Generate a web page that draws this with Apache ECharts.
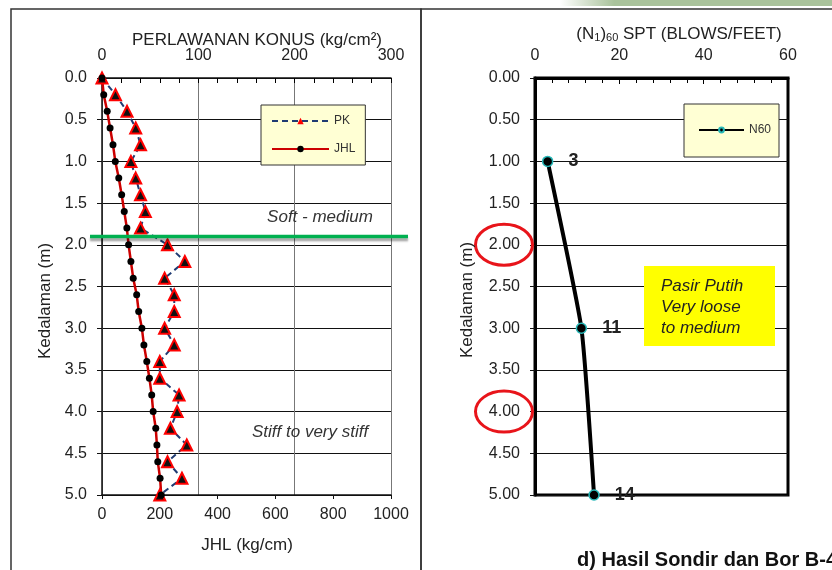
<!DOCTYPE html>
<html>
<head>
<meta charset="utf-8">
<script src="https://cdn.jsdelivr.net/npm/echarts/dist/echarts.min.js"></script>
<style>
html, body { margin: 0; padding: 0; background: #fff; }
#chart { width: 832px; height: 570px; }
</style>
</head>
<body>
<div id="chart"></div>
<script>
// kedalaman (m) tiap 0.2 m
const depth = [0, 0.2, 0.4, 0.6, 0.8, 1.0, 1.2, 1.4, 1.6, 1.8, 2.0, 2.2, 2.4,
    2.6, 2.8, 3.0, 3.2, 3.4, 3.6, 3.8, 4.0, 4.2, 4.4, 4.6, 4.8, 5.0];
// perlawanan konus (kg/cm2)
const pk = [0, 14, 26, 35, 40, 30, 35, 40, 45, 40, 68, 86, 65,
    75, 75, 65, 75, 60, 60, 80, 78, 71, 88, 68, 83, 60];
// jumlah hambatan lekat (kg/cm)
const jhl = [0, 6, 18, 28, 38, 46, 58, 68, 77, 86, 92, 100, 108,
    120, 127, 138, 145, 155, 164, 172, 177, 186, 190, 193, 201, 205];
// SPT
const sptDepth = [1, 3, 5];
const n60 = [3, 11, 14];

const softLimit = 1.9; // batas soft - medium
const circledDepths = [2, 4];

const FONT = "'Liberation Sans', Arial, sans-serif";
const INK = "#222";

const myChart = echarts.init(document.getElementById("chart"));

const tickLabel = {
    color: INK,
    fontSize: 16,
    fontFamily: FONT,
    showMinLabel: true,
    showMaxLabel: true,
    formatter: v => String(v),
};

const option = {
    animation: false,
    backgroundColor: "#fff",
    grid: [
        { left: 102, top: 78, width: 289, height: 417 },
        { left: 535, top: 78, width: 253, height: 417, show: true, borderColor: "#000", borderWidth: 3 },
    ],
    legend: [
        {
            data: [
                { name: "PK", itemStyle: { color: "#ff0000", borderWidth: 0 } },
                { name: "JHL" },
            ],
            orient: "vertical",
            left: 261,
            top: 105,
            padding: [10, 10, 10, 10],
            itemWidth: 57,
            itemHeight: 8,
            itemGap: 16,
            backgroundColor: "#ffffd4",
            borderColor: "#333",
            borderWidth: 1,
            borderRadius: 0,
            textStyle: { color: "#333", fontSize: 12, fontFamily: FONT },
        },
        {
            data: ["N60"],
            left: 684,
            top: 104,
            padding: [20, 8, 21, 14],
            itemWidth: 45,
            itemHeight: 6,
            backgroundColor: "#ffffd4",
            borderColor: "#333",
            borderWidth: 1,
            borderRadius: 0,
            textStyle: { color: "#333", fontSize: 12, fontFamily: FONT },
        },
    ],
    xAxis: [
        {
            // PK atas
            type: "value",
            gridIndex: 0,
            position: "top",
            min: 0,
            max: 300,
            interval: 100,
            axisLine: { show: true, onZero: false, lineStyle: { color: "#111", width: 1.5 } },
            axisTick: { show: true, inside: true, length: 5, lineStyle: { color: "#000", width: 1 } },
            minorTick: { show: true, splitNumber: 5, length: 5, lineStyle: { color: "#000", width: 1 } },
            splitLine: { show: true, lineStyle: { color: "#777", width: 1 } },
            axisLabel: Object.assign({}, tickLabel, { margin: 14 }),
        },
        {
            // JHL bawah
            type: "value",
            gridIndex: 0,
            position: "bottom",
            min: 0,
            max: 1000,
            interval: 200,
            axisLine: { show: true, onZero: false, lineStyle: { color: "#111", width: 1.5 } },
            axisTick: { show: true, inside: false, length: 4, lineStyle: { color: "#111" } },
            splitLine: { show: false },
            axisLabel: Object.assign({}, tickLabel, { margin: 12 }),
        },
        {
            // N60
            type: "value",
            gridIndex: 1,
            position: "top",
            min: 0,
            max: 60,
            interval: 20,
            axisLine: { show: true, onZero: false, lineStyle: { color: "#000", width: 3 } },
            axisTick: { show: true, inside: true, length: 6, lineStyle: { color: "#000", width: 1 } },
            minorTick: { show: true, splitNumber: 5, length: 5, lineStyle: { color: "#000", width: 1 } },
            splitLine: { show: false },
            axisLabel: Object.assign({}, tickLabel, { margin: 14 }),
        },
    ],
    yAxis: [
        {
            type: "value",
            gridIndex: 0,
            inverse: true,
            min: 0,
            max: 5,
            interval: 0.5,
            axisLine: { show: true, onZero: false, lineStyle: { color: "#111", width: 1.5 } },
            axisTick: { show: true, inside: false, length: 5, lineStyle: { color: "#111" } },
            splitLine: { show: true, lineStyle: { color: "#111", width: 1 } },
            axisLabel: Object.assign({}, tickLabel, { margin: 15, formatter: v => v.toFixed(1) }),
        },
        {
            type: "value",
            gridIndex: 1,
            inverse: true,
            min: 0,
            max: 5,
            interval: 0.5,
            axisLine: { show: true, onZero: false, lineStyle: { color: "#000", width: 3 } },
            axisTick: { show: true, inside: false, length: 5, lineStyle: { color: "#111" } },
            splitLine: { show: true, lineStyle: { color: "#111", width: 1 } },
            axisLabel: Object.assign({}, tickLabel, { margin: 15, formatter: v => v.toFixed(2) }),
        },
    ],
    series: [
        {
            name: "PK",
            type: "line",
            xAxisIndex: 0,
            yAxisIndex: 0,
            data: depth.map((d, i) => [pk[i], d]),
            symbol: "triangle",
            symbolSize: 11,
            lineStyle: { color: "#1f3b73", width: 2, type: [6, 4] },
            itemStyle: { color: "#111", borderColor: "#ff0000", borderWidth: 2 },
        },
        {
            name: "JHL",
            type: "line",
            xAxisIndex: 1,
            yAxisIndex: 0,
            data: depth.map((d, i) => [jhl[i], d]),
            symbol: "circle",
            symbolSize: 7,
            lineStyle: { color: "#cc0000", width: 2.5 },
            itemStyle: { color: "#000" },
        },
        {
            name: "N60",
            type: "line",
            xAxisIndex: 2,
            yAxisIndex: 1,
            data: sptDepth.map((d, i) => [n60[i], d]),
            smooth: 0.15,
            symbol: "circle",
            symbolSize: 10,
            lineStyle: { color: "#000", width: 4 },
            itemStyle: { color: "#000", borderColor: "#27b8b8", borderWidth: 1.5 },
            label: {
                show: true,
                position: "right",
                distance: 15,
                color: INK,
                fontSize: 18,
                fontWeight: "bold",
                fontFamily: FONT,
                formatter: p => p.value[0],
            },
        },
    ],
};

myChart.setOption(option);

// anotasi yang bergantung pada posisi sumbu
const greenY = myChart.convertToPixel({ yAxisIndex: 0 }, softLimit);
const circleY = circledDepths.map(d => myChart.convertToPixel({ yAxisIndex: 1 }, d));

const txt = (text, x, y, extra) => ({
    type: "text",
    x,
    y,
    z: 100,
    style: Object.assign({
        text,
        fill: INK,
        font: "17px " + FONT,
        align: "center",
        verticalAlign: "middle",
    }, extra),
});

const yName = (x, y) => Object.assign(txt("Kedalaman (m)", x, y), { rotation: Math.PI / 2 });

myChart.setOption({
    graphic: [
        // panel
        { type: "rect", z: 50, shape: { x: 11, y: 9, width: 410, height: 600 }, style: { fill: null, stroke: "#333", lineWidth: 1.5 } },
        { type: "rect", z: 50, shape: { x: 421, y: 9, width: 500, height: 600 }, style: { fill: null, stroke: "#333", lineWidth: 1.5 } },
        {
            type: "rect",
            z: 50,
            shape: { x: 560, y: 0, width: 272, height: 6 },
            style: {
                fill: new echarts.graphic.LinearGradient(0, 0, 1, 0, [
                    { offset: 0, color: "rgba(168,192,154,0)" },
                    { offset: 0.2, color: "#a9c29b" },
                    { offset: 1, color: "#a9c29b" },
                ]),
            },
        },
        // garis batas soft - medium
        {
            type: "line",
            z: 90,
            shape: { x1: 90, y1: greenY, x2: 408, y2: greenY },
            style: { stroke: "#00b050", lineWidth: 3.5, shadowColor: "rgba(0,0,0,0.35)", shadowOffsetY: 3, shadowBlur: 2 },
        },
        // lingkaran merah
        ...circleY.map(cy => ({
            type: "ellipse",
            z: 90,
            shape: { cx: 504, cy, rx: 28.5, ry: 20.5 },
            style: { fill: null, stroke: "#e8141a", lineWidth: 3 },
        })),
        // kotak kuning
        { type: "rect", z: 90, shape: { x: 644, y: 266, width: 131, height: 80 }, style: { fill: "#ffff00" } },
        txt("Pasir Putih", 661, 286, { align: "left", font: "italic 17px " + FONT }),
        txt("Very loose", 661, 307, { align: "left", font: "italic 17px " + FONT }),
        txt("to medium", 661, 328, { align: "left", font: "italic 17px " + FONT }),
        // judul & nama sumbu
        txt("PERLAWANAN KONUS (kg/cm²)", 257, 40),
        txt("JHL (kg/cm)", 247, 545),
        yName(45, 301),
        txt("(N{s|1}){s|60} SPT (BLOWS/FEET)", 679, 34, {
            rich: { s: { fontSize: 11, fontFamily: FONT, fill: INK, padding: [7, 0, 0, 0] } },
        }),
        yName(467, 300),
        txt("Soft - medium", 320, 217, { font: "italic 17px " + FONT, fill: "#333" }),
        txt("Stiff to very stiff", 252, 432, { align: "left", font: "italic 17px " + FONT, fill: "#333" }),
        txt("d) Hasil Sondir dan Bor B-4", 577, 560, { align: "left", font: "bold 20px " + FONT, fill: "#111" }),
    ],
});
</script>
</body>
</html>
